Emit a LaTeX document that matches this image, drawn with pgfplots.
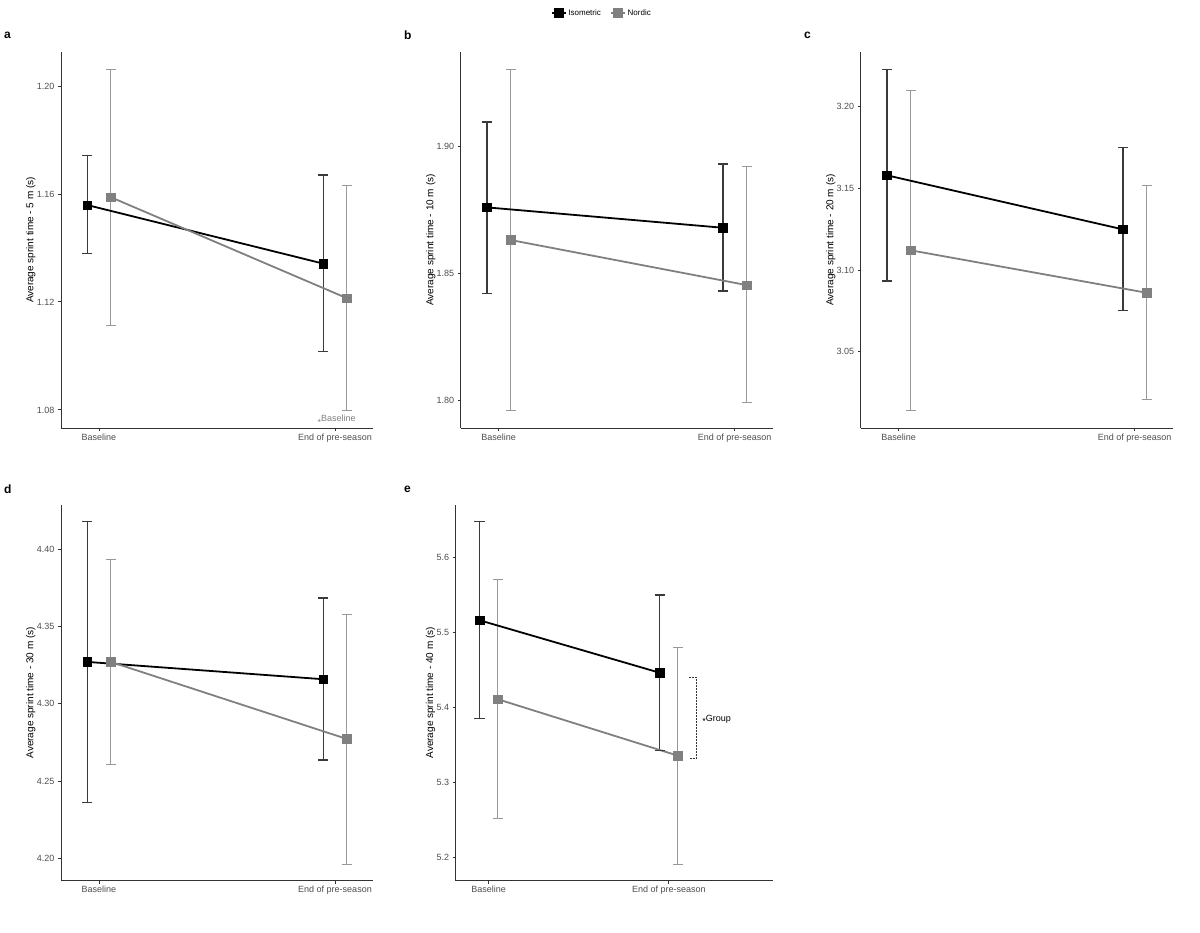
\documentclass[border=0pt]{standalone}
\usepackage{fontspec}
\setmainfont{Liberation Sans}
\usepackage{pgfplots}
\pgfplotsset{compat=1.18}
\usepackage{pgfplotstable}

\definecolor{axcol}{HTML}{333333}
\definecolor{tickcol}{HTML}{4D4D4D}
\definecolor{nordcol}{HTML}{808080}
\definecolor{isoerr}{HTML}{3A3A3A}
\definecolor{norerr}{HTML}{999999}

% x (dodged category position), mean, error plus, error minus, upper, lower
\pgfplotstableread{
x y ep em hi lo
-0.05 1.1559 0.0183 0.0181 1.1742 1.1378
0.95 1.1342 0.0328 0.0327 1.1670 1.1015
}\aIso
\pgfplotstableread{
x y ep em hi lo
0.05 1.1588 0.0474 0.0476 1.2062 1.1112
1.05 1.1214 0.0417 0.0416 1.1631 1.0798
}\aNor
\pgfplotstableread{
x y ep em hi lo
-0.05 1.8759 0.0335 0.0338 1.9094 1.8421
0.95 1.8679 0.0250 0.0248 1.8929 1.8431
}\bIso
\pgfplotstableread{
x y ep em hi lo
0.05 1.8631 0.0670 0.0670 1.9301 1.7961
1.05 1.8454 0.0465 0.0462 1.8919 1.7992
}\bNor
\pgfplotstableread{
x y ep em hi lo
-0.05 3.1580 0.0649 0.0647 3.2229 3.0933
0.95 3.1249 0.0502 0.0498 3.1751 3.0751
}\cIso
\pgfplotstableread{
x y ep em hi lo
0.05 3.1121 0.0981 0.0982 3.2102 3.0139
1.05 3.0861 0.0655 0.0651 3.1516 3.0210
}\cNor
\pgfplotstableread{
x y ep em hi lo
-0.05 4.3271 0.0906 0.0909 4.4177 4.2362
0.95 4.3159 0.0525 0.0522 4.3684 4.2637
}\dIso
\pgfplotstableread{
x y ep em hi lo
0.05 4.3271 0.0664 0.0666 4.3935 4.2605
1.05 4.2773 0.0807 0.0810 4.3580 4.1963
}\dNor
\pgfplotstableread{
x y ep em hi lo
-0.05 5.5161 0.1317 0.1317 5.6478 5.3844
0.95 5.4460 0.1040 0.1040 5.5500 5.3420
}\eIso
\pgfplotstableread{
x y ep em hi lo
0.05 5.4107 0.1594 0.1594 5.5701 5.2513
1.05 5.3353 0.1451 0.1451 5.4804 5.1902
}\eNor
\pgfplotstableread{
x y
1.114 5.440
1.152 5.440
1.152 5.331
1.114 5.331
}\eBracket

\pgfplotsset{
  panel/.style={
    scale only axis, width=312pt, height=376pt, anchor=south west,
    axis x line*=bottom, axis y line*=left,
    axis line style={draw=axcol, line width=0.9pt, -},
    every tick/.style={draw=axcol, line width=0.9pt},
    tick align=outside, major tick length=3pt,
    xtick={0,1}, xticklabels={Baseline,End of pre-season},
    minor tick num=0,
    ticklabel style={font=\fontsize{9}{9}\selectfont, text=tickcol},
    xticklabel style={yshift=1pt},
    /pgf/number format/assume math mode=true,
    ylabel style={font=\fontsize{10}{10}\selectfont, text=black, anchor=center},
    clip=false,
    xmin=-0.161, xmax=1.161,
  },
  isoeb/.style={forget plot, only marks, mark=none,
    error bars/.cd, y dir=both, y explicit, error mark=none,
    error bar style={draw=isoerr, line width=1.2pt, solid}},
  noreb/.style={forget plot, only marks, mark=none,
    error bars/.cd, y dir=both, y explicit, error mark=none,
    error bar style={draw=norerr, line width=1.0pt, solid}},
  isocap/.style={forget plot, only marks, mark=-, mark size=5.2pt,
    mark options={draw=isoerr, line width=1.2pt}},
  norcap/.style={forget plot, only marks, mark=-, mark size=5.0pt,
    mark options={draw=norerr, line width=1.0pt}},
  isoline/.style={black, line width=1.8pt, mark=square*, mark size=4.3pt,
    mark options={solid, line width=0.4pt, fill=black, draw=black}},
  norline/.style={nordcol, line width=1.8pt, mark=square*, mark size=4.3pt,
    mark options={solid, line width=0.4pt, fill=nordcol, draw=nordcol}},
}

\newcommand{\errs}[2]{%
  \addplot[isoeb] table[x=x,y=y,y error plus=ep,y error minus=em] {#1};
  \addplot[isocap] table[x=x,y=hi] {#1};
  \addplot[isocap] table[x=x,y=lo] {#1};
  \addplot[noreb] table[x=x,y=y,y error plus=ep,y error minus=em] {#2};
  \addplot[norcap] table[x=x,y=hi] {#2};
  \addplot[norcap] table[x=x,y=lo] {#2};
}
\newcommand{\lowstar}{{\fontsize{9}{9}\selectfont\raisebox{-3.2pt}{*}}}

\begin{document}
\begin{tikzpicture}
\useasboundingbox (0,0) rectangle (1200pt,933pt);

% panel letters
\node[anchor=west, inner sep=0pt, font=\fontsize{12}{12}\selectfont\bfseries] at (4pt,898pt) {a};
\node[anchor=west, inner sep=0pt, font=\fontsize{12}{12}\selectfont\bfseries] at (404pt,898pt) {b};
\node[anchor=west, inner sep=0pt, font=\fontsize{12}{12}\selectfont\bfseries] at (804pt,898pt) {c};
\node[anchor=west, inner sep=0pt, font=\fontsize{12}{12}\selectfont\bfseries] at (4pt,444pt) {d};
\node[anchor=west, inner sep=0pt, font=\fontsize{12}{12}\selectfont\bfseries] at (404pt,444pt) {e};

% ---- a ----
\begin{axis}[panel, at={(61pt,505pt)},
  ymin=1.0733, ymax=1.2126,
  ytick={1.08,1.12,1.16,1.20}, yticklabels={1.08,1.12,1.16,1.20},
  ylabel={Average sprint time - 5 m (s)},
  ylabel style={at={(axis description cs:-0.097,0.5)}}]
\errs{\aIso}{\aNor}
\addplot[isoline] table[x=x,y=y] {\aIso};
\addplot[norline] table[x=x,y=y] {\aNor};
\node[anchor=west, inner sep=0pt, text=nordcol, font=\fontsize{9}{9}\selectfont] at (axis cs:0.925,1.0762) {\lowstar Baseline};
\end{axis}

% ---- b ----
\begin{axis}[panel, at={(460.7pt,505pt)},
  ymin=1.7893, ymax=1.9369,
  ytick={1.80,1.85,1.90}, yticklabels={1.80,1.85,1.90},
  ylabel={Average sprint time - 10 m (s)},
  ylabel style={at={(axis description cs:-0.096,0.5)}},
  legend style={at={(axis description cs:0.452,1.104)}, anchor=center,
    draw=none, fill=none, font=\fontsize{8}{8}\selectfont,
    legend columns=2, inner sep=0pt,
    /tikz/every even column/.append style={column sep=7pt}},
  legend image code/.code={\draw[mark repeat=2,mark phase=2,#1] plot coordinates {(0pt,0pt) (7pt,0pt) (14pt,0pt)};}]
\errs{\bIso}{\bNor}
\addplot[isoline] table[x=x,y=y] {\bIso};
\addlegendentry{Isometric}
\addplot[norline] table[x=x,y=y] {\bNor};
\addlegendentry{Nordic}
\end{axis}

% ---- c ----
\begin{axis}[panel, at={(860.7pt,505pt)},
  ymin=3.0033, ymax=3.2335,
  ytick={3.05,3.10,3.15,3.20}, yticklabels={3.05,3.10,3.15,3.20},
  ylabel={Average sprint time - 20 m (s)},
  ylabel style={at={(axis description cs:-0.096,0.5)}}]
\errs{\cIso}{\cNor}
\addplot[isoline] table[x=x,y=y] {\cIso};
\addplot[norline] table[x=x,y=y] {\cNor};
\end{axis}

% ---- d ----
\begin{axis}[panel, at={(61pt,52.3pt)},
  ymin=4.1857, ymax=4.4287,
  ytick={4.20,4.25,4.30,4.35,4.40}, yticklabels={4.20,4.25,4.30,4.35,4.40},
  ylabel={Average sprint time - 30 m (s)},
  ylabel style={at={(axis description cs:-0.097,0.5)}}]
\errs{\dIso}{\dNor}
\addplot[isoline] table[x=x,y=y] {\dIso};
\addplot[norline] table[x=x,y=y] {\dNor};
\end{axis}

% ---- e ----
\begin{axis}[panel, at={(455.7pt,52.3pt)}, width=317.6pt,
  xmin=-0.183, xmax=1.58,
  ymin=5.1683, ymax=5.6705,
  ytick={5.2,5.3,5.4,5.5,5.6}, yticklabels={5.2,5.3,5.4,5.5,5.6},
  ylabel={Average sprint time - 40 m (s)},
  ylabel style={at={(axis description cs:-0.079,0.5)}}]
\errs{\eIso}{\eNor}
\addplot[isoline] table[x=x,y=y] {\eIso};
\addplot[norline] table[x=x,y=y] {\eNor};
\addplot[forget plot, axcol, line width=1.1pt, dash pattern=on 2pt off 1pt] table[x=x,y=y] {\eBracket};
\node[anchor=west, inner sep=0pt, text=black, font=\fontsize{9}{9}\selectfont] at (axis cs:1.185,5.3826) {\lowstar Group};
\end{axis}
\end{tikzpicture}
\end{document}
